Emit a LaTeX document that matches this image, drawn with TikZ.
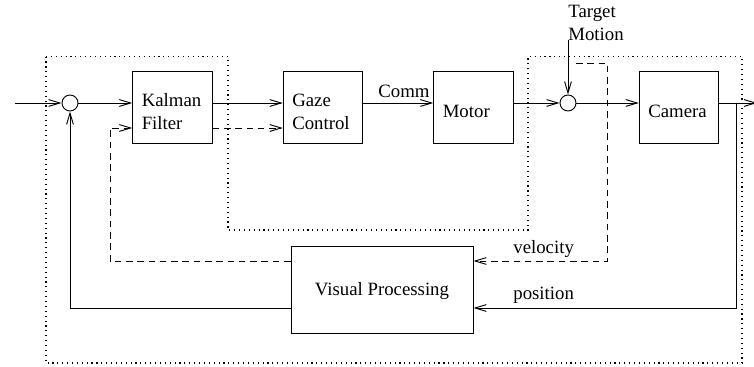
\documentclass[tikz,border=0pt]{standalone}
\usepackage{fontspec}
\setmainfont{Liberation Serif}
\usetikzlibrary{arrows.meta}

\begin{document}
\begin{tikzpicture}[x=0.532pt,y=-0.532pt,
	block/.style={draw,line width=0.5pt,minimum width=42.3pt,minimum height=37.8pt,inner xsep=4.8pt,text width=32.7pt,text height=11pt,align=left},
	bigblock/.style={draw,line width=0.5pt,minimum width=96.8pt,minimum height=46.3pt,text height=9pt,align=center},
	sumnode/.style={draw,circle,line width=0.5pt,minimum size=8.5pt,inner sep=0pt},
	arr/.style={line width=0.5pt,-{Straight Barb[length=6pt,width=3.6pt]}},
	fb/.style={dash pattern=on 3.5pt off 2.5pt},
	lbl/.style={inner sep=0pt,anchor=west}]
\useasboundingbox (0,0) rectangle (754,367);
\draw[dotted,line width=0.6pt] (46,56.5) -- (228,56.5) -- (228,230) -- (528,230) -- (528,56.5) -- (742,56.5) -- (742,363) -- (46,363) -- cycle;
\node[sumnode] (sum1) at (70,103) {};
\node[block] (kf) at (172.5,107.5) {Kalman Filter};
\node[block] (gaze) at (323,107.5) {Gaze Control};
\node[block] (motor) at (473.5,107.5) {Motor};
\node[sumnode] (sum2) at (568,103) {};
\node[block] (cam) at (679,107.5) {Camera};
\node[bigblock] (vp) at (382,289.5) {Visual Processing};
\node (comm) at (404,91) {Comm};
\node[lbl,align=left] (tmlbl) at (568,23) {Target\\Motion};
\node[lbl] (vlbl) at (513,249) {velocity};
\node[lbl] (plbl) at (513,295) {position};
\coordinate (top) at (0,103);
\coordinate (low) at (0,128);
\coordinate (in) at (15,103);
\coordinate (out) at (757,103);
\coordinate (br) at (736,103);
\coordinate (pos) at (736,308);
\coordinate (vel) at (110,261);
\coordinate (vtop) at (576,63);
\coordinate (vcor) at (607,63);
\coordinate (tm) at (568,40);
\draw[arr] (in) -- (sum1);
\draw[arr] (sum1) -- (sum1 -| kf.west);
\draw[arr] (kf.east |- top) -- (gaze.west |- top);
\draw[arr,fb] (kf.east |- low) -- (gaze.west |- low);
\draw[arr] (gaze.east |- top) -- (motor.west |- top);
\draw[arr] (motor.east |- top) -- (sum2);
\draw[arr] (tm) -- (sum2);
\draw[arr] (sum2) -- (sum2 -| cam.west);
\draw[arr] (cam.east |- top) -- (out);
\draw[arr] (br) -- (pos) -- (pos -| vp.east);
\draw[arr] (pos -| vp.west) -| (sum1);
\draw[arr,fb] (vtop) -- (vcor) |- (vel -| vp.east);
\draw[arr,fb] (vel -| vp.west) -- (vel) |- (low -| kf.west);
\end{tikzpicture}
\end{document}
